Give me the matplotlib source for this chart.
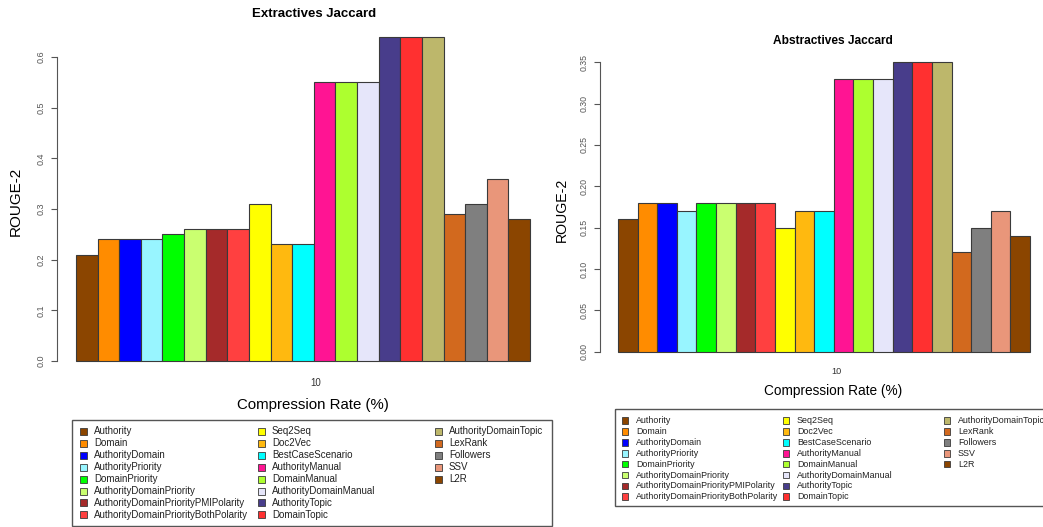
import matplotlib
matplotlib.use("Agg")
import matplotlib.pyplot as plt
from matplotlib.patches import Rectangle

plt.rcParams['font.family'] = ['Liberation Sans', 'DejaVu Sans']

methods = [
    "Authority", "Domain", "AuthorityDomain", "AuthorityPriority",
    "DomainPriority", "AuthorityDomainPriority",
    "AuthorityDomainPriorityPMIPolarity", "AuthorityDomainPriorityBothPolarity",
    "Seq2Seq", "Doc2Vec", "BestCaseScenario", "AuthorityManual",
    "DomainManual", "AuthorityDomainManual", "AuthorityTopic", "DomainTopic",
    "AuthorityDomainTopic", "LexRank", "Followers", "SSV", "L2R",
]
colors = [
    "#8B4500", "#FF8C00", "#0000FF", "#98F5FF", "#00FF00", "#CAFF70",
    "#A52A2A", "#FF4040", "#FFFF00", "#FFB90F", "#00FFFF", "#FF1493",
    "#ADFF2F", "#E6E6FA", "#483D8B", "#FF3030", "#BDB76B", "#D2691E",
    "#7F7F7F", "#E9967A", "#8B4500",
]
extractive = [0.21, 0.24, 0.24, 0.24, 0.25, 0.26, 0.26, 0.26, 0.31, 0.23, 0.23,
              0.55, 0.55, 0.55, 0.64, 0.64, 0.64, 0.29, 0.31, 0.36, 0.28]
abstractive = [0.16, 0.18, 0.18, 0.17, 0.18, 0.18, 0.18, 0.18, 0.15, 0.17, 0.17,
               0.33, 0.33, 0.33, 0.35, 0.35, 0.35, 0.12, 0.15, 0.17, 0.14]
extr_ticks = [0.0, 0.1, 0.2, 0.3, 0.4, 0.5, 0.6]
extr_ticklabels = ["0.0", "0.1", "0.2", "0.3", "0.4", "0.5", "0.6"]
abst_ticks = [0.0, 0.05, 0.10, 0.15, 0.20, 0.25, 0.30, 0.35]
abst_ticklabels = ["0.00", "0.05", "0.10", "0.15", "0.20", "0.25", "0.30", "0.35"]
group_label = "10"

W, H = 1043, 527
fig = plt.figure(figsize=(W / 100, H / 100), dpi=100)


def px_axes(x0, x1, ytop, ybot):
    return fig.add_axes([x0 / W, 1 - ybot / H, (x1 - x0) / W, (ybot - ytop) / H])


def bar_panel(ax, values, ymax, spine_top, ticks, ticklabels, gap_units, tick_fs):
    n = len(values)
    xs = list(range(n))
    ax.bar(xs, values, width=1.0, align='edge', color=colors,
           edgecolor='#3a3a3a', linewidth=0.8, clip_on=False)
    ax.set_xlim(-gap_units, n)
    ax.set_ylim(0, ymax)
    for s in ("top", "right", "bottom"):
        ax.spines[s].set_visible(False)
    ax.spines["left"].set_bounds(0, spine_top)
    ax.spines["left"].set_color("#555555")
    ax.spines["left"].set_linewidth(0.8)
    ax.set_xticks([])
    ax.set_yticks(ticks)
    ax.set_yticklabels(ticklabels, rotation=90, va='center', fontsize=tick_fs,
                       color='#555555')
    ax.tick_params(axis='y', length=4, width=0.8, color='#555555', pad=4)
    ax.patch.set_visible(False)


# Extractives panel: y axis at x=57 px, value 0 at 361 px, 0.6 at 57 px
axL = px_axes(57, 530, 37.5, 361)
bar_panel(axL, extractive, (0.6 / (361 - 57)) * (361 - 37.5), 0.6,
          extr_ticks, extr_ticklabels, (76 - 57) / ((530 - 76) / 21), 6.5)

# Abstractives panel
axR = px_axes(600, 1030, 62.3, 351.7)
bar_panel(axR, abstractive, 0.35, 0.35,
          abst_ticks, abst_ticklabels, (618 - 600) / ((1030 - 618) / 21), 6.3)

# Overlay in pixel coordinates for titles, labels and legends
ov = fig.add_axes([0, 0, 1, 1])
ov.set_xlim(0, W)
ov.set_ylim(H, 0)
ov.axis('off')
ov.patch.set_visible(False)

ov.text(314, 14, "Extractives Jaccard", ha='center', va='center',
        fontsize=9.5, fontweight='bold')
ov.text(833, 41, "Abstractives Jaccard", ha='center', va='center',
        fontsize=8.6, fontweight='bold')
ov.text(16, 201, "ROUGE-2", rotation=90, ha='center', va='center', fontsize=11)
ov.text(562, 210, "ROUGE-2", rotation=90, ha='center', va='center', fontsize=10.2)
ov.text(316, 383, group_label, ha='center', va='center', fontsize=7, color='#333333')
ov.text(836, 371, group_label, ha='center', va='center', fontsize=6.6, color='#333333')
ov.text(313, 405, "Compression Rate (%)", ha='center', va='center', fontsize=10.8)
ov.text(833, 391, "Compression Rate (%)", ha='center', va='center', fontsize=9.8)


def legend_box(x0, y0, x1, y1, col_x, row0, dy, box, fs):
    ov.add_patch(Rectangle((x0, y0), x1 - x0, y1 - y0, fill=False,
                           edgecolor='#555555', linewidth=1.0, clip_on=False))
    for i, (name, c) in enumerate(zip(methods, colors)):
        col, row = divmod(i, 8)
        cx = col_x[col]
        cy = row0 + row * dy
        ov.add_patch(Rectangle((cx - box / 2, cy - box / 2), box, box,
                               facecolor=c, edgecolor='#3a3a3a', linewidth=0.6))
        ov.text(cx + 11, cy, name, ha='left', va='center', fontsize=fs,
                color='#222222')


legend_box(72, 420, 552, 526, [83, 261, 438], 431.5, 11.9, 7, 7.0)
legend_box(615, 409, 1050, 506, [625, 786, 947], 420.7, 10.86, 6.5, 6.4)

fig.savefig("out.png", dpi=100)
